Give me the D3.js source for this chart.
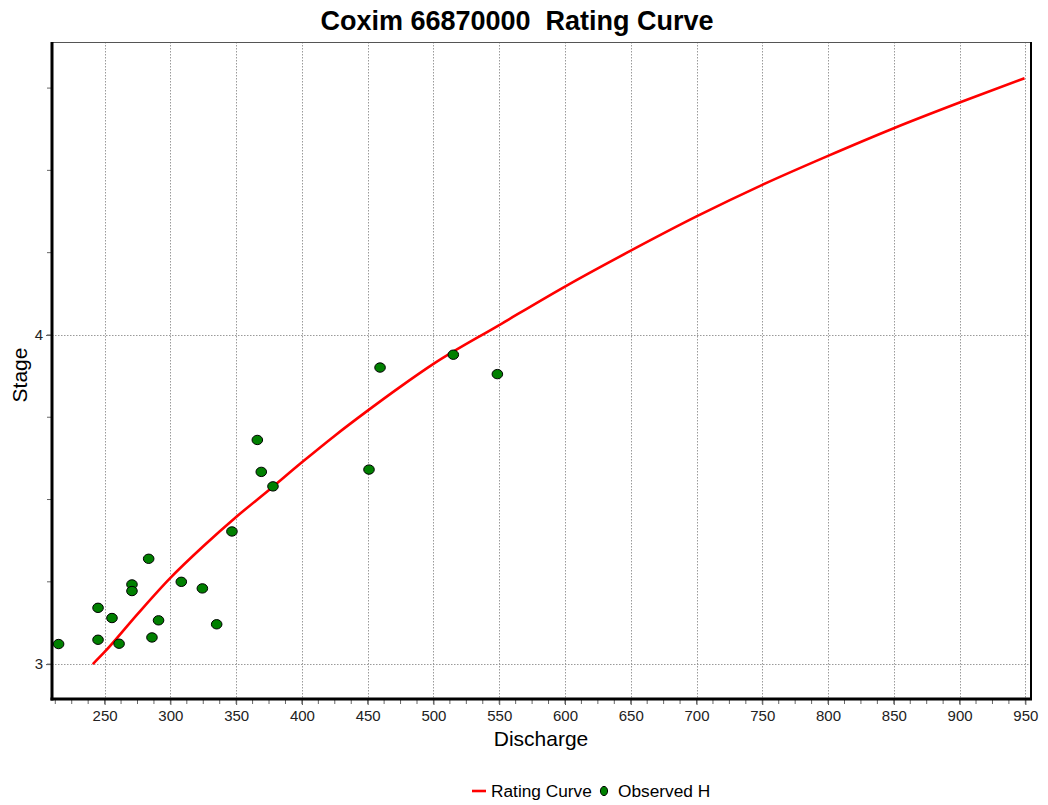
<!DOCTYPE html>
<html>
<head>
<meta charset="utf-8">
<script src="https://cdn.jsdelivr.net/npm/d3@7"></script>
<style>
  html, body { margin: 0; padding: 0; background: #fff; }
  svg { display: block; font-family: "Liberation Sans", Arial, sans-serif; }
</style>
</head>
<body>
<svg id="chart" width="1048" height="805"></svg>
<script>
// Rating curve (discharge -> stage)
const curveQ = [241, 250, 275, 300, 325, 350, 375, 400, 425, 450, 475, 500, 550, 600, 650, 700, 750, 800, 850, 900, 949.4];
const curveH = [3.0, 3.037, 3.152, 3.262, 3.358, 3.447, 3.529, 3.613, 3.694, 3.770, 3.843, 3.912, 4.030, 4.147, 4.256, 4.360, 4.456, 4.544, 4.628, 4.706, 4.780];

// Observed gaugings
const obsQ = [215, 245, 245, 255.6, 261, 270.8, 270.8, 283.5, 286, 291, 308.3, 324.3, 335.2, 346.8, 366.1, 369.1, 378, 451, 459.4, 515.1, 548.6];
const obsH = [3.061, 3.171, 3.074, 3.140, 3.062, 3.242, 3.222, 3.320, 3.081, 3.133, 3.250, 3.230, 3.121, 3.403, 3.681, 3.584, 3.540, 3.591, 3.901, 3.940, 3.881];

// Axis ticks
const xMajorTicks = [250, 300, 350, 400, 450, 500, 550, 600, 650, 700, 750, 800, 850, 900, 950];
const xMinorTicks = d3.range(212.5, 955, 12.5);
const yMajorTicks = [3, 4];
const yMinorTicks = [3, 3.25, 3.5, 3.75, 4, 4.25, 4.5, 4.75];

const titleText = "Coxim 66870000  Rating Curve";
const xLabel = "Discharge";
const yLabel = "Stage";
const legendItems = ["Rating Curve", "Observed H"];

const svg = d3.select("#chart");
const plot = { left: 52, right: 1031, top: 42, bottom: 699 };

const x = d3.scaleLinear().domain([210, 954.3]).range([plot.left, plot.right]);
const y = d3.scaleLinear().domain([2.894, 4.89]).range([plot.bottom, plot.top]);

// Dotted grid
const grid = svg.append("g").attr("stroke", "#9a9a9a").attr("stroke-width", 1).attr("stroke-dasharray", "1.5,1.5");
grid.selectAll("line.gx").data(xMajorTicks).join("line")
  .attr("x1", d => Math.round(x(d)) + 0.5).attr("x2", d => Math.round(x(d)) + 0.5)
  .attr("y1", plot.top).attr("y2", plot.bottom);
grid.selectAll("line.gy").data(yMajorTicks).join("line")
  .attr("y1", d => Math.round(y(d)) + 0.5).attr("y2", d => Math.round(y(d)) + 0.5)
  .attr("x1", plot.left).attr("x2", plot.right);

// Frame: thin top/right, heavy left/bottom
svg.append("line").attr("x1", plot.left).attr("x2", plot.right).attr("y1", plot.top + 0.5).attr("y2", plot.top + 0.5)
  .attr("stroke", "#555").attr("stroke-width", 1);
svg.append("line").attr("x1", plot.right).attr("x2", plot.right).attr("y1", plot.top).attr("y2", plot.bottom)
  .attr("stroke", "#000").attr("stroke-width", 2);

// X axis
const xAxis = svg.append("g").attr("transform", `translate(0,${plot.bottom})`)
  .call(d3.axisBottom(x).tickValues(xMajorTicks).tickSize(6).tickPadding(5).tickFormat(d3.format("d")));
xAxis.select(".domain").remove();
xAxis.selectAll(".tick line").attr("stroke", "#555");
xAxis.selectAll(".tick text").attr("font-size", 15).attr("fill", "#222")
  .attr("font-family", "'Liberation Sans', Arial, sans-serif");
svg.append("g").attr("transform", `translate(0,${plot.bottom})`)
  .selectAll("line").data(xMinorTicks).join("line")
  .attr("x1", d => x(d)).attr("x2", d => x(d)).attr("y1", 0).attr("y2", 5)
  .attr("stroke", "#666").attr("stroke-width", 1);

// Y axis
const yAxis = svg.append("g").attr("transform", `translate(${plot.left},0)`)
  .call(d3.axisLeft(y).tickValues(yMajorTicks).tickSize(6).tickPadding(3).tickFormat(d3.format("d")));
yAxis.select(".domain").remove();
yAxis.selectAll(".tick line").attr("stroke", "#555");
yAxis.selectAll(".tick text").attr("font-size", 15).attr("fill", "#222")
  .attr("font-family", "'Liberation Sans', Arial, sans-serif");
svg.append("g").attr("transform", `translate(${plot.left},0)`)
  .selectAll("line").data(yMinorTicks).join("line")
  .attr("y1", d => y(d)).attr("y2", d => y(d)).attr("x1", -5).attr("x2", 0)
  .attr("stroke", "#666").attr("stroke-width", 1);

// Heavy left and bottom axis lines
svg.append("line").attr("x1", plot.left).attr("x2", plot.left).attr("y1", plot.top).attr("y2", plot.bottom + 1.5)
  .attr("stroke", "#000").attr("stroke-width", 3);
svg.append("line").attr("x1", plot.left - 1.5).attr("x2", plot.right + 1).attr("y1", plot.bottom).attr("y2", plot.bottom)
  .attr("stroke", "#000").attr("stroke-width", 3);

// Rating curve
const line = d3.line().x(d => x(d[0])).y(d => y(d[1])).curve(d3.curveMonotoneX);
svg.append("path")
  .datum(d3.zip(curveQ, curveH))
  .attr("d", line)
  .attr("fill", "none")
  .attr("stroke", "#ff0000")
  .attr("stroke-width", 2.6)
  .attr("stroke-linejoin", "round");

// Observations
svg.append("g").selectAll("ellipse").data(d3.zip(obsQ, obsH)).join("ellipse")
  .attr("cx", d => x(d[0])).attr("cy", d => y(d[1]))
  .attr("rx", 5.3).attr("ry", 4.7)
  .attr("fill", "#008000").attr("stroke", "#000").attr("stroke-width", 1);

// Title and axis labels
svg.append("text").attr("x", 517).attr("y", 30).attr("text-anchor", "middle")
  .attr("xml:space", "preserve").style("white-space", "pre")
  .attr("font-size", 27).attr("font-weight", "bold").attr("fill", "#000").text(titleText);
svg.append("text").attr("x", 541).attr("y", 746).attr("text-anchor", "middle")
  .attr("font-size", 21).attr("fill", "#000").text(xLabel);
svg.append("text").attr("transform", "translate(27,375) rotate(-90)").attr("text-anchor", "middle")
  .attr("font-size", 21).attr("fill", "#000").text(yLabel);

// Legend
const lg = svg.append("g");
lg.append("line").attr("x1", 472).attr("x2", 486).attr("y1", 791).attr("y2", 791)
  .attr("stroke", "#ff0000").attr("stroke-width", 2.6);
lg.append("text").attr("x", 491).attr("y", 797).attr("font-size", 17.3).attr("fill", "#000").text(legendItems[0]);
lg.append("ellipse").attr("cx", 604).attr("cy", 791).attr("rx", 3.6).attr("ry", 4.6)
  .attr("fill", "#008000").attr("stroke", "#000").attr("stroke-width", 1);
lg.append("text").attr("x", 618).attr("y", 797).attr("font-size", 17.3).attr("fill", "#000").text(legendItems[1]);
</script>
</body>
</html>
